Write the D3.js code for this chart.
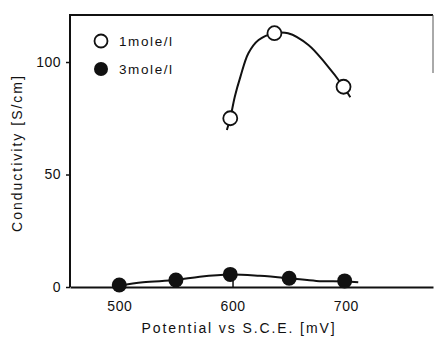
<!DOCTYPE html>
<html>
<head>
<meta charset="utf-8">
<script src="https://cdn.jsdelivr.net/npm/d3@7"></script>
<style>
  body { margin: 0; background: #fff; }
  text { font-family: "Liberation Sans", Arial, sans-serif; fill: #111; }
</style>
</head>
<body>
<script>
// measured points
var potential1 = [598, 637, 698];
var cond1 = [75, 112.8, 89];
var potential3 = [500, 550, 598, 650, 699];
var cond3 = [0.9, 3.1, 5.6, 3.9, 2.7];

// hand-drawn fit curves
var fit1X = [595, 598, 602, 607, 614, 623, 637, 649, 667, 682, 698, 704];
var fit1Y = [69.8, 75, 84.6, 93.5, 103.9, 109.8, 112.8, 112.8, 107.6, 99.4, 89, 84.3];
var fit3X = [500, 521, 550, 571, 598, 624, 650, 674, 699, 711];
var fit3Y = [0.6, 2.1, 3.1, 4.6, 5.6, 5.0, 3.9, 2.7, 2.5, 2.1];

var xTicks = [500, 600, 700];
var yTicks = [0, 50, 100];
var seriesNames = ['1mole/l', '3mole/l'];

var width = 434, height = 339;
var plotLeft = 70, plotRight = 433, plotTop = 15, plotBottom = 287;

var x = d3.scaleLinear().domain([456.5, 777]).range([plotLeft, plotRight]);
var y = d3.scaleLinear().domain([0, 120.9]).range([plotBottom, plotTop]);

var svg = d3.select('body').append('svg')
    .attr('width', width)
    .attr('height', height);

// frame
svg.append('path')
    .attr('d', 'M' + plotLeft + ',' + plotBottom + 'V' + plotTop + 'H' + plotRight)
    .attr('fill', 'none').attr('stroke', '#111').attr('stroke-width', 2);
svg.append('line')
    .attr('x1', plotRight).attr('x2', plotRight).attr('y1', plotTop).attr('y2', 73)
    .attr('stroke', '#555').attr('stroke-width', 1);

// axes
var xAxis = svg.append('g')
    .attr('transform', 'translate(0,' + plotBottom + ')')
    .call(d3.axisBottom(x).tickValues(xTicks).tickSize(-6).tickPadding(14).tickSizeOuter(0));
xAxis.select('.domain').attr('stroke', '#111').attr('stroke-width', 2.2);
xAxis.selectAll('.tick line').attr('stroke', '#111').attr('stroke-width', 1.5);
xAxis.selectAll('.tick text').attr('font-size', 14).attr('letter-spacing', 0.5).attr('fill', '#111');

var yAxis = svg.append('g')
    .attr('transform', 'translate(' + plotLeft + ',0)')
    .call(d3.axisLeft(y).tickValues(yTicks).tickSize(4).tickPadding(5).tickSizeOuter(0));
yAxis.select('.domain').remove();
yAxis.selectAll('.tick line').attr('stroke', '#111').attr('stroke-width', 1.5);
yAxis.selectAll('.tick text').attr('font-size', 14).attr('letter-spacing', 0.5).attr('fill', '#111');

// axis titles
svg.append('text')
    .attr('x', 239).attr('y', 333)
    .attr('text-anchor', 'middle')
    .attr('font-size', 14).attr('letter-spacing', 1.9)
    .text('Potential vs S.C.E. [mV]');
svg.append('text')
    .attr('transform', 'translate(22,153) rotate(-90)')
    .attr('text-anchor', 'middle')
    .attr('font-size', 14).attr('letter-spacing', 2)
    .text('Conductivity [S/cm]');

// curves
var line = d3.line()
    .x(function(d) { return x(d[0]); })
    .y(function(d) { return y(d[1]); })
    .curve(d3.curveCatmullRom.alpha(0.5));

svg.append('path')
    .datum(d3.zip(fit1X, fit1Y))
    .attr('d', line)
    .attr('fill', 'none').attr('stroke', '#111').attr('stroke-width', 2);
svg.append('path')
    .datum(d3.zip(fit3X, fit3Y))
    .attr('d', line)
    .attr('fill', 'none').attr('stroke', '#111').attr('stroke-width', 2);

// markers
svg.selectAll('circle.open')
    .data(d3.zip(potential1, cond1))
    .enter().append('circle')
    .attr('class', 'open')
    .attr('cx', function(d) { return x(d[0]); })
    .attr('cy', function(d) { return y(d[1]); })
    .attr('r', 7)
    .attr('fill', '#fff').attr('stroke', '#111').attr('stroke-width', 1.8);

svg.selectAll('circle.filled')
    .data(d3.zip(potential3, cond3))
    .enter().append('circle')
    .attr('class', 'filled')
    .attr('cx', function(d) { return x(d[0]); })
    .attr('cy', function(d) { return y(d[1]); })
    .attr('r', 7.5)
    .attr('fill', '#111');

// legend
var legend = svg.append('g').attr('transform', 'translate(101,41)');
seriesNames.forEach(function(name, i) {
    var g = legend.append('g').attr('transform', 'translate(0,' + (i * 28) + ')');
    g.append('circle')
        .attr('r', i === 0 ? 6.5 : 7)
        .attr('fill', i === 0 ? '#fff' : '#111')
        .attr('stroke', '#111').attr('stroke-width', i === 0 ? 1.8 : 0);
    g.append('text')
        .attr('x', 18).attr('y', 5)
        .attr('font-size', 13.5).attr('letter-spacing', 1.6)
        .text(name);
});
</script>
</body>
</html>
